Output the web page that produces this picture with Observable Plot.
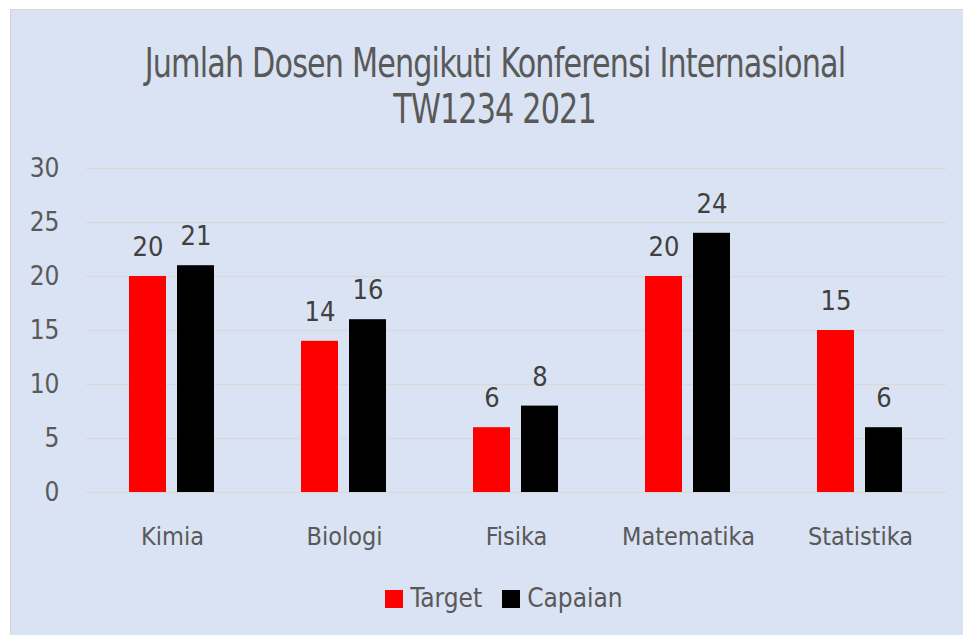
<!DOCTYPE html>
<html>
<head>
<meta charset="utf-8">
<script src="https://cdn.jsdelivr.net/npm/d3@7"></script>
<script src="https://cdn.jsdelivr.net/npm/@observablehq/plot@0.6"></script>
<style>
  html, body { margin: 0; padding: 0; background: #ffffff; width: 963px; height: 635px; overflow: hidden; }
  body { font-family: "DejaVu Sans Condensed", "DejaVu Sans", sans-serif; }
  #card { position: absolute; left: 10px; top: 9px; width: 960px; height: 640px; background: #dae3f3; border: 1px solid #d6d6d6; box-sizing: border-box; }
  #title { position: absolute; left: 0; top: 30px; width: 968px; text-align: center; color: #595959; font-size: 40px; line-height: 46px; letter-spacing: -1px; }
  #title span { display: inline-block; transform: scaleX(0.84); transform-origin: center; white-space: nowrap; }
  #chart { position: absolute; left: 0; top: 130px; }
  #legend { position: absolute; left: 3px; top: 573px; width: 980px; text-align: center; color: #595959; font-size: 26px; }
  #legend .item { display: inline-block; margin: 0 10px; }
  #legend .sw { display: inline-block; width: 18px; height: 18px; margin-right: 7px; vertical-align: -1px; }
</style>
</head>
<body>
<div id="card">
  <div id="title"><span>Jumlah Dosen Mengikuti Konferensi Internasional</span><br><span>TW1234 2021</span></div>
  <div id="chart"></div>
  <div id="legend"></div>
</div>
<script>
const categories = ["Kimia", "Biologi", "Fisika", "Matematika", "Statistika"];
const seriesNames = ["Target", "Capaian"];
const targetValues = [20, 14, 6, 20, 15];
const capaianValues = [21, 16, 8, 24, 6];
const seriesColors = ["#ff0000", "#000000"];
const yTicks = [0, 5, 10, 15, 20, 25, 30];

const data = [];
categories.forEach((c, i) => {
  data.push({category: c, series: seriesNames[0], value: targetValues[i]});
  data.push({category: c, series: seriesNames[1], value: capaianValues[i]});
});

const plot = Plot.plot({
  width: 953,
  height: 420,
  marginTop: 28,
  marginLeft: 73,
  marginRight: 16,
  marginBottom: 68,
  style: { background: "transparent", fontFamily: "'DejaVu Sans Condensed', 'DejaVu Sans', sans-serif", color: "#595959", overflow: "visible" },
  fx: { domain: categories, padding: 0, label: null },
  x: { domain: seriesNames, paddingInner: 0.2245, paddingOuter: 0.873, axis: null },
  y: { domain: [0, 30], ticks: yTicks, label: null },
  color: { domain: seriesNames, range: seriesColors },
  marks: [
    Plot.ruleY(yTicks, { stroke: "#d9d9d9", strokeWidth: 1.5 }),
    Plot.barY(data, { fx: "category", x: "series", y: "value", fill: "series" }),
    Plot.text(data, { fx: "category", x: "series", y: "value", text: d => String(d.value), dy: -29, fill: "#404040", fontSize: 27 }),
    Plot.axisY({ ticks: yTicks, tickSize: 0, tickPadding: 27, fontSize: 26, fill: "#595959", label: null }),
    Plot.axisFx({ anchor: "bottom", tickSize: 0, tickPadding: 35, fontSize: 25, fill: "#595959", label: null })
  ]
});
document.getElementById("chart").appendChild(plot);

const legend = document.getElementById("legend");
seriesNames.forEach((s, i) => {
  const item = document.createElement("span");
  item.className = "item";
  item.innerHTML = `<span class="sw" style="background:${seriesColors[i]}"></span>${s}`;
  legend.appendChild(item);
});
</script>
</body>
</html>
